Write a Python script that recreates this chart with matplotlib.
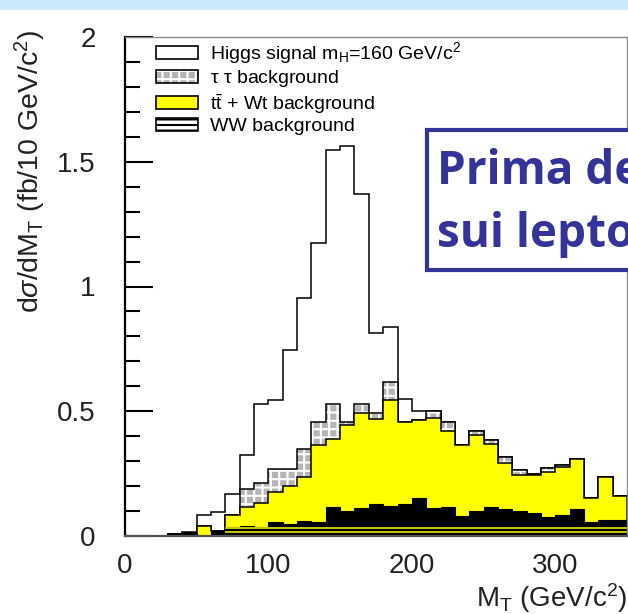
import numpy as np
import matplotlib
matplotlib.use("Agg")
import matplotlib.pyplot as plt
from matplotlib.patches import Patch, Rectangle
from matplotlib.legend_handler import HandlerTuple
from matplotlib.ticker import MultipleLocator
from matplotlib import font_manager as fm

# ---------------- data: dsigma/dMT in fb per 10 GeV/c^2 bin ----------------
bin_edges = list(range(0, 360, 10))          # 0 ... 350 GeV/c^2
ww_bkg = [0, 0, 0, 0.010, 0.012, 0, 0.020, 0.035, 0.040, 0.035,
          0.055, 0.050, 0.060, 0.055, 0.118, 0.102, 0.114, 0.127, 0.122, 0.127,
          0.153, 0.113, 0.118, 0.082, 0.100, 0.118, 0.109, 0.100, 0.092, 0.076,
          0.085, 0.109, 0.058, 0.065, 0.065]
ttwt_bkg = [0, 0, 0, 0, 0, 0.040, 0, 0.051, 0.076, 0.097,
            0.121, 0.149, 0.176, 0.308, 0.272, 0.342, 0.377, 0.340, 0.425, 0.330,
            0.311, 0.358, 0.303, 0.281, 0.304, 0.252, 0.183, 0.146, 0.154, 0.180,
            0.193, 0.199, 0.094, 0.171, 0.094]
tautau_bkg = [0, 0, 0, 0, 0, 0, 0, 0, 0.074, 0.082,
              0.094, 0.071, 0.114, 0.094, 0.141, 0.011, 0.040, 0.024, 0.071, 0,
              0, 0.029, 0.036, 0, 0.017, 0.014, 0.025, 0.020, 0.004, 0.018,
              0.005, 0, 0, 0, 0]
higgs_sig = [0, 0, 0, 0, 0.003, 0.046, 0.076, 0.084, 0.136, 0.317,
             0.277, 0.475, 0.603, 0.716, 1.017, 1.109, 0.839, 0.321, 0.221, 0.091,
             0.037, 0, 0, 0, 0, 0, 0, 0, 0, 0,
             0, 0, 0, 0, 0]
y_ticks = [0, 0.5, 1, 1.5, 2]
y_tick_labels = ["0", "0.5", "1", "1.5", "2"]
x_ticks = [0, 100, 200, 300]
x_tick_labels = ["0", "100", "200", "300"]
legend_labels = [r"Higgs signal m$_\mathrm{H}$=160 GeV/c$^2$",
                 r"$\mathrm{\tau\ \tau}$ background",
                 r"t$\bar{\mathrm{t}}$ + Wt background",
                 r"WW background"]
hatch_stripes = [0.018, 0.032]   # WW fill pattern stripes
stripe_from = 70

# ---------------- styling ----------------
names = {f.name for f in fm.fontManager.ttflist}
narrow = "Liberation Sans Narrow" if "Liberation Sans Narrow" in names else "Liberation Sans"
plt.rcParams["font.family"] = ["Liberation Sans", "DejaVu Sans"]
plt.rcParams["mathtext.fontset"] = "custom"
plt.rcParams["mathtext.rm"] = "Liberation Sans"
plt.rcParams["mathtext.it"] = "Liberation Sans:italic"
plt.rcParams["mathtext.bf"] = "Liberation Sans:bold"
plt.rcParams["hatch.linewidth"] = 1.5

YELLOW = "#ffff00"
GRAY = "#b5b5b5"
NAVY = "#333399"

edges = np.array(bin_edges, dtype=float)
c_ww = np.array(ww_bkg)
c_tt = c_ww + np.array(ttwt_bkg)
c_tau = c_tt + np.array(tautau_bkg)
c_tot = c_tau + np.array(higgs_sig)

W, H = 628, 614
fig = plt.figure(figsize=(W / 100, H / 100), dpi=100)
fig.patch.set_facecolor("white")

# light-blue band of the slide at the top
fig.add_artist(Rectangle((0, 1 - 10 / H), 1, 10 / H, transform=fig.transFigure,
                         facecolor="#cce8fb", edgecolor="none", zorder=0))

ax = fig.add_axes([125 / W, 1 - 536 / H, 502 / W, 499 / H])
ax.set_xlim(0, 350)
ax.set_ylim(0, 2)

lw = 1.1
ax.stairs(c_tot, edges, baseline=0, fill=True, facecolor="white",
          edgecolor="black", linewidth=lw, zorder=2)
ax.stairs(c_tau, edges, baseline=0, fill=True, facecolor=GRAY,
          edgecolor="white", hatch="++", linewidth=0, zorder=3)
ax.stairs(c_tau, edges, baseline=0, fill=False, color="black",
          linewidth=lw, zorder=3.1)
ax.stairs(c_tt, edges, baseline=0, fill=True, facecolor=YELLOW,
          edgecolor="black", linewidth=lw, zorder=4)
ax.stairs(c_ww, edges, baseline=0, fill=True, facecolor="black",
          edgecolor="black", linewidth=0.8, zorder=5)
ax.hlines(hatch_stripes, stripe_from, edges[-1], colors=YELLOW, linewidth=1.1, zorder=6)

# axes frame
for side in ["top", "right"]:
    ax.spines[side].set_color("#8a8a8a")
    ax.spines[side].set_linewidth(1.0)
ax.spines["left"].set_color("black")
ax.spines["left"].set_linewidth(1.6)
ax.spines["bottom"].set_color("#555555")
ax.spines["bottom"].set_linewidth(1.6)
for s in ax.spines.values():
    s.set_zorder(10)

ax.set_yticks(y_ticks)
ax.set_yticklabels(y_tick_labels, family=narrow, fontsize=20, color="#222222")
ax.yaxis.set_minor_locator(MultipleLocator(0.1))
ax.tick_params(axis="y", which="major", direction="in", length=20, width=1.5, pad=21)
ax.tick_params(axis="y", which="minor", direction="in", length=11, width=1.5)
ax.set_xticks(x_ticks)
ax.set_xticklabels(x_tick_labels, family=narrow, fontsize=20, color="#222222")
ax.tick_params(axis="x", which="both", length=0, pad=12)

# axis titles
fig.text(30 / W, 1 - 29 / H, r"d$\sigma$/dM$_\mathrm{T}$ (fb/10 GeV/c$^2$)",
         rotation=90, ha="center", va="top", fontsize=20.5, color="#222222")
fig.text(627 / W, 1 - 598 / H, r"M$_\mathrm{T}$ (GeV/c$^2$)",
         ha="right", va="center", fontsize=20, color="#222222")

# legend
handles = [
    Patch(facecolor="white", edgecolor="black", linewidth=1.2),
    (Patch(facecolor=GRAY, edgecolor="white", hatch="++", linewidth=0),
     Patch(facecolor="none", edgecolor="black", linewidth=1.2)),
    Patch(facecolor=YELLOW, edgecolor="black", linewidth=1.2),
    Patch(facecolor="white", edgecolor="black", hatch="---", linewidth=1.2),
]
ax.legend(handles, legend_labels, handler_map={tuple: HandlerTuple(ndivide=1, pad=0)},
          loc="upper left", bbox_to_anchor=(156 / W, 1 - 40 / H),
          bbox_transform=fig.transFigure, frameon=False, borderpad=0,
          borderaxespad=0, handlelength=2.15, handleheight=0.64,
          handletextpad=0.62, labelspacing=0.13,
          prop=dict(family="Liberation Sans", size=14))

# slide annotation box (cut by the slide edge)
fig.add_artist(Rectangle((427 / W, 1 - 270 / H), 300 / W, 140 / H,
                         transform=fig.transFigure, facecolor="white",
                         edgecolor=NAVY, linewidth=3, zorder=20))
fig.text(437 / W, 1 - 184 / H, "Prima dei tagli", color=NAVY, fontsize=33,
         fontweight="bold", family=["Open Sans", "DejaVu Sans"], va="baseline", zorder=21)
fig.text(437 / W, 1 - 247 / H, "sui leptoni", color=NAVY, fontsize=33,
         fontweight="bold", family=["Open Sans", "DejaVu Sans"], va="baseline", zorder=21)

fig.savefig("out.png", dpi=100)
